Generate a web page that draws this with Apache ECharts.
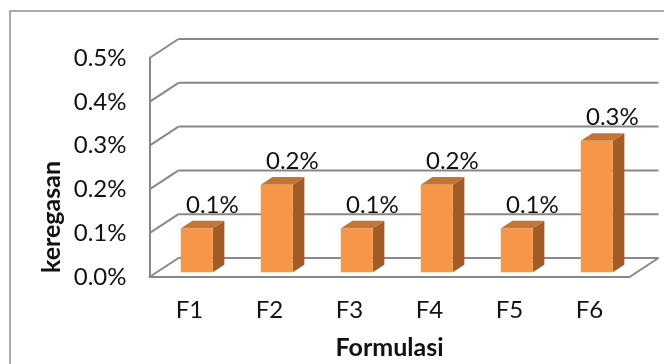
<!DOCTYPE html>
<html>
<head>
<meta charset="utf-8">
<script src="https://cdn.jsdelivr.net/npm/echarts@6/dist/echarts.min.js"></script>
<style>
  html, body { margin: 0; padding: 0; background: #fff; }
  #chart { width: 664px; height: 364px; }
</style>
</head>
<body>
<div id="chart"></div>
<script>
// data
var categories = ['F1', 'F2', 'F3', 'F4', 'F5', 'F6'];
var keregasan = [0.1, 0.2, 0.1, 0.2, 0.1, 0.3];   // percent
var yTicks = [0, 0.1, 0.2, 0.3, 0.4, 0.5];

// depth of the fake 3d box, pixels
var DX = 29, DY = -19;
var GRID_COLOR = '#888888';
var FONT = 'Lato, "Open Sans", sans-serif';

var chart = echarts.init(document.getElementById('chart'));

// back wall + left wall lines, one item per tick
function renderWalls(params, api) {
    var cs = params.coordSys;
    var y = api.coord([0, api.value(1)])[1];
    var x0 = cs.x, x1 = cs.x + cs.width;
    var style = { stroke: GRID_COLOR, lineWidth: 2 };
    var kids = [
        { type: 'line', shape: { x1: x0, y1: y, x2: x0 + DX, y2: y + DY }, style: style },
        { type: 'line', shape: { x1: x0 + DX, y1: y + DY, x2: x1 + DX, y2: y + DY }, style: style }
    ];
    if (api.value(1) === 0) {
        // right edge of the floor
        kids.push({ type: 'line', shape: { x1: x1, y1: y, x2: x1 + DX, y2: y + DY }, style: style });
    }
    return { type: 'group', children: kids, silent: true };
}

// 3d-ish column: front, top and side faces
function renderBar(params, api) {
    var idx = api.value(0);
    var val = api.value(1);
    var top = api.coord([idx, val]);
    var base = api.coord([idx, 0]);
    var bw = api.size([1, 0])[0];
    var fw = bw * 0.4;
    var d0 = 0.25, d1 = 0.65;
    var fx = top[0] - fw / 2 + d0 * DX;
    var fyTop = top[1] + d0 * DY;
    var fyBot = base[1] + d0 * DY;
    var bx = (d1 - d0) * DX, by = (d1 - d0) * DY;
    var labelX = fx + fw / 2 + bx + 4;
    var labelY = fyTop + by - 16;
    return {
        type: 'group',
        children: [
            {
                type: 'polygon',
                shape: { points: [[fx + fw, fyTop], [fx + fw, fyBot], [fx + fw + bx, fyBot + by], [fx + fw + bx, fyTop + by]] },
                style: { fill: '#A15C27' }
            },
            {
                type: 'polygon',
                shape: { points: [[fx, fyTop], [fx + fw, fyTop], [fx + fw + bx, fyTop + by], [fx + bx, fyTop + by]] },
                style: { fill: '#C47434' }
            },
            {
                type: 'rect',
                shape: { x: fx, y: fyTop, width: fw, height: fyBot - fyTop },
                style: { fill: '#F79646' }
            },
            {
                type: 'text',
                x: labelX, y: labelY,
                style: {
                    text: val.toFixed(1) + '%',
                    fill: '#111',
                    font: '24px ' + FONT,
                    align: 'center',
                    verticalAlign: 'middle'
                }
            }
        ]
    };
}

var option = {
    backgroundColor: '#fff',
    animation: false,
    graphic: [
        {
            type: 'rect',
            shape: { x: 10, y: 11, width: 700, height: 400 },
            style: { fill: 'none', stroke: '#8e8e8e', lineWidth: 1.5 },
            silent: true
        },
        {
            // y axis title sits lower than the plot middle in the original
            type: 'text',
            x: 52, y: 217,
            rotation: Math.PI / 2,
            style: {
                text: 'keregasan',
                font: 'bold 25px ' + FONT,
                fill: '#111',
                align: 'center',
                verticalAlign: 'middle'
            },
            silent: true
        }
    ],
    grid: { left: 149.5, right: 34.5, top: 58, bottom: 87, containLabel: false, outerBoundsMode: 'none' },
    xAxis: {
        type: 'category',
        data: categories,
        name: 'Formulasi',
        nameLocation: 'middle',
        nameGap: 58,
        nameTextStyle: { fontFamily: FONT, fontSize: 25, fontWeight: 'bold', color: '#111' },
        axisLine: { lineStyle: { color: GRID_COLOR, width: 2 } },
        axisTick: { length: 6, lineStyle: { color: GRID_COLOR, width: 2 } },
        axisLabel: { margin: 21, fontFamily: FONT, fontSize: 24, color: '#111' },
        splitLine: { show: false }
    },
    yAxis: {
        type: 'value',
        min: 0,
        max: 0.5,
        interval: 0.1,
        axisLine: { show: true, lineStyle: { color: GRID_COLOR, width: 2 } },
        axisTick: { show: false },
        axisLabel: {
            margin: 23,
            fontFamily: FONT, fontSize: 24, color: '#111',
            formatter: function (v) { return v.toFixed(1) + '%'; }
        },
        splitLine: { show: false }
    },
    series: [
        {
            type: 'custom',
            name: 'walls',
            renderItem: renderWalls,
            data: yTicks.map(function (v) { return [0, v]; }),
            silent: true,
            z: 1
        },
        {
            type: 'custom',
            name: 'keregasan',
            renderItem: renderBar,
            data: keregasan.map(function (v, i) { return [i, v]; }),
            z: 3
        }
    ]
};

chart.setOption(option);
</script>
</body>
</html>
